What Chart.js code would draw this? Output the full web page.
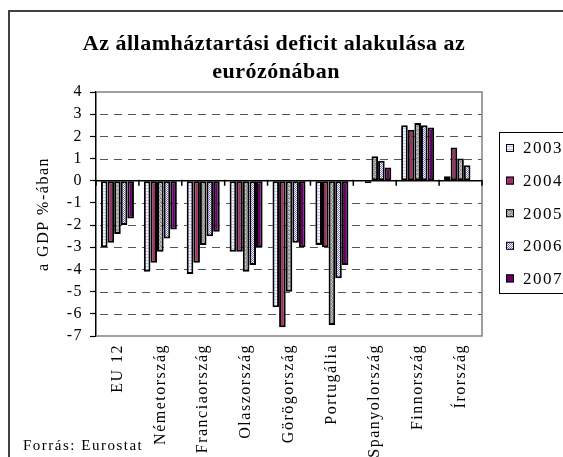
<!DOCTYPE html>
<html>
<head>
<meta charset="utf-8">
<script src="https://cdn.jsdelivr.net/npm/chart.js@4.4.0/dist/chart.umd.min.js"></script>
<style>
  html, body { margin: 0; padding: 0; background: #fff; overflow: hidden; }
  #wrap { position: relative; width: 563px; height: 457px; }
</style>
</head>
<body>
<div id="wrap"><canvas id="grafik"></canvas></div>
<script>
// Adatok (a GDP %-ában)
const orszagok = ['EU 12', 'Németország', 'Franciaország', 'Olaszország', 'Görögország', 'Portugália', 'Spanyolország', 'Finnország', 'Írország'];
const evek = ['2003', '2004', '2005', '2006', '2007'];
const adat2003 = [-3.0, -4.1, -4.2, -3.2, -5.7, -2.9, 0.0, 2.5, 0.2];
const adat2004 = [-2.8, -3.7, -3.7, -3.2, -6.6, -3.0, -0.1, 2.3, 1.5];
const adat2005 = [-2.4, -3.2, -2.9, -4.1, -5.0, -6.5, 1.1, 2.6, 1.0];
const adat2006 = [-2.0, -2.6, -2.5, -3.8, -2.8, -4.4, 0.9, 2.5, 0.7];
const adat2007 = [-1.7, -2.2, -2.3, -3.0, -3.0, -3.8, 0.6, 2.4, null];
const yTickek = [4, 3, 2, 1, 0, -1, -2, -3, -4, -5, -6, -7];

const betu = "'Liberation Serif', 'Times New Roman', serif";

// Kitöltési minták
function minta(w, h, rajzol) {
  const c = document.createElement('canvas');
  c.width = w; c.height = h;
  const g = c.getContext('2d');
  rajzol(g);
  return g.createPattern(c, 'repeat');
}
const csikos = minta(4, 3, g => {
  g.fillStyle = '#f4f4ff'; g.fillRect(0, 0, 4, 3);
  g.fillStyle = '#c0c0ec'; g.fillRect(0, 2, 4, 1);
});
const szurke = minta(4, 4, g => {
  g.fillStyle = '#a4a4a4'; g.fillRect(0, 0, 4, 4);
  g.fillStyle = '#cfcfcf'; g.fillRect(1, 0, 1, 1); g.fillRect(3, 2, 1, 1); g.fillRect(0, 3, 1, 1);
  g.fillStyle = '#7c7c7c'; g.fillRect(2, 1, 1, 1); g.fillRect(0, 2, 1, 1); g.fillRect(3, 3, 1, 1);
});
const kockas = minta(2, 2, g => {
  g.fillStyle = '#ffffff'; g.fillRect(0, 0, 2, 2);
  g.fillStyle = '#7a6cd0'; g.fillRect(0, 0, 1, 1); g.fillRect(1, 1, 1, 1);
});

const sorozatok = [adat2003, adat2004, adat2005, adat2006, adat2007];
const kitoltesek = [csikos, '#993366', szurke, kockas, '#660066'];

// Keret, rácsvonalak, cím, jelmagyarázat, nullvonal
const keretPlugin = {
  id: 'keret',
  beforeDraw(chart) {
    chart.ctx.letterSpacing = '1.5px';
  },
  beforeDatasetsDraw(chart) {
    const { ctx, chartArea: ca, scales: { y } } = chart;
    ctx.save();
    // szaggatott rácsvonalak
    ctx.strokeStyle = '#555';
    ctx.lineWidth = 1.2;
    ctx.setLineDash([8, 6]);
    ctx.beginPath();
    yTickek.forEach(v => {
      if (v === 0 || v === 4 || v === -7) return;
      const py = Math.round(y.getPixelForValue(v)) + 0.5;
      ctx.moveTo(ca.left + 4, py); ctx.lineTo(ca.right, py);
    });
    ctx.stroke();
    ctx.setLineDash([]);
    // szürke rajzterület-keret
    ctx.strokeStyle = '#808080';
    ctx.lineWidth = 1.5;
    ctx.beginPath();
    ctx.moveTo(ca.left, ca.top); ctx.lineTo(ca.right, ca.top);
    ctx.lineTo(ca.right, ca.bottom); ctx.lineTo(ca.left, ca.bottom);
    ctx.stroke();
    ctx.restore();
  },
  afterDatasetsDraw(chart) {
    const { ctx, scales: { x, y } } = chart;
    const y0 = y.getPixelForValue(0);
    ctx.save();
    ctx.strokeStyle = '#000';
    ctx.lineWidth = 1.5;
    ctx.beginPath();
    ctx.moveTo(x.left, y0); ctx.lineTo(x.right, y0);
    for (let i = 0; i <= orszagok.length; i++) {
      const px = x.getPixelForValue(i - 0.5);
      ctx.moveTo(px, y0 - 1); ctx.lineTo(px, y0 + 5);
    }
    ctx.stroke();
    ctx.restore();
  },
  afterDraw(chart) {
    const { ctx } = chart;
    ctx.save();
    // külső keret
    ctx.strokeStyle = '#404040';
    ctx.lineWidth = 2;
    ctx.beginPath();
    ctx.moveTo(9, 470); ctx.lineTo(9, 11); ctx.lineTo(600, 11);
    ctx.stroke();

    // cím
    ctx.fillStyle = '#000';
    ctx.textAlign = 'center';
    ctx.textBaseline = 'alphabetic';
    ctx.letterSpacing = '0.5px';
    ctx.font = 'bold 22px ' + betu;
    ctx.fillText('Az államháztartási deficit alakulása az', 274, 50);
    ctx.fillText('eurózónában', 276, 78);

    // forrás
    ctx.letterSpacing = '1.5px';
    ctx.textAlign = 'left';
    ctx.font = '15px ' + betu;
    ctx.fillText('Forrás: Eurostat', 23, 450);

    // jelmagyarázat
    ctx.fillStyle = '#fff';
    ctx.fillRect(499, 132, 100, 161);
    ctx.strokeStyle = '#000';
    ctx.lineWidth = 1;
    ctx.strokeRect(499.5, 132.5, 100, 161);
    ctx.font = '17px ' + betu;
    ctx.textBaseline = 'middle';
    evek.forEach((ev, i) => {
      const cy = 148 + i * 32.6;
      ctx.fillStyle = kitoltesek[i];
      ctx.fillRect(506, cy - 4, 8, 8);
      ctx.strokeStyle = '#000';
      ctx.lineWidth = 1;
      ctx.strokeRect(506.5, cy - 3.5, 7, 7);
      ctx.fillStyle = '#000';
      ctx.fillText(ev, 523, cy + 1);
    });
    ctx.restore();
  }
};

const ctx = document.getElementById('grafik').getContext('2d');
new Chart(ctx, {
  type: 'bar',
  data: {
    labels: orszagok,
    datasets: sorozatok.map((adat, i) => ({
      label: evek[i],
      data: adat,
      backgroundColor: kitoltesek[i],
      borderColor: '#000',
      borderWidth: 2,
      borderSkipped: false,
      barPercentage: 1,
      categoryPercentage: 0.77
    }))
  },
  options: {
    responsive: true,
    maintainAspectRatio: false,
    animation: false,
    layout: {
      padding: { top: 92, right: 81, left: 10, bottom: 0 }
    },
    plugins: {
      legend: { display: false },
      title: { display: false },
      tooltip: { enabled: false }
    },
    scales: {
      x: {
        grid: { display: false, drawTicks: false },
        border: { display: false },
        ticks: {
          autoSkip: false,
          minRotation: 90,
          maxRotation: 90,
          padding: 8,
          color: '#000',
          font: { family: betu, size: 16 }
        },
        afterFit: (scale) => { scale.height = 121; }
      },
      y: {
        min: -7,
        max: 4,
        afterBuildTicks: (scale) => { scale.ticks = yTickek.map(v => ({ value: v })); },
        grid: {
          drawOnChartArea: false,
          tickLength: 6,
          tickColor: '#000',
          tickWidth: 1.2
        },
        border: { display: true, color: '#000', width: 1.5 },
        ticks: {
          autoSkip: false,
          padding: 7,
          color: '#000',
          font: { family: betu, size: 16 }
        },
        title: {
          display: true,
          text: 'a GDP %-ában',
          color: '#000',
          padding: { top: 24, bottom: 0 },
          font: { family: betu, size: 16 }
        },
        afterFit: (scale) => { scale.width = 86; }
      }
    }
  },
  plugins: [keretPlugin]
});
</script>
</body>
</html>
